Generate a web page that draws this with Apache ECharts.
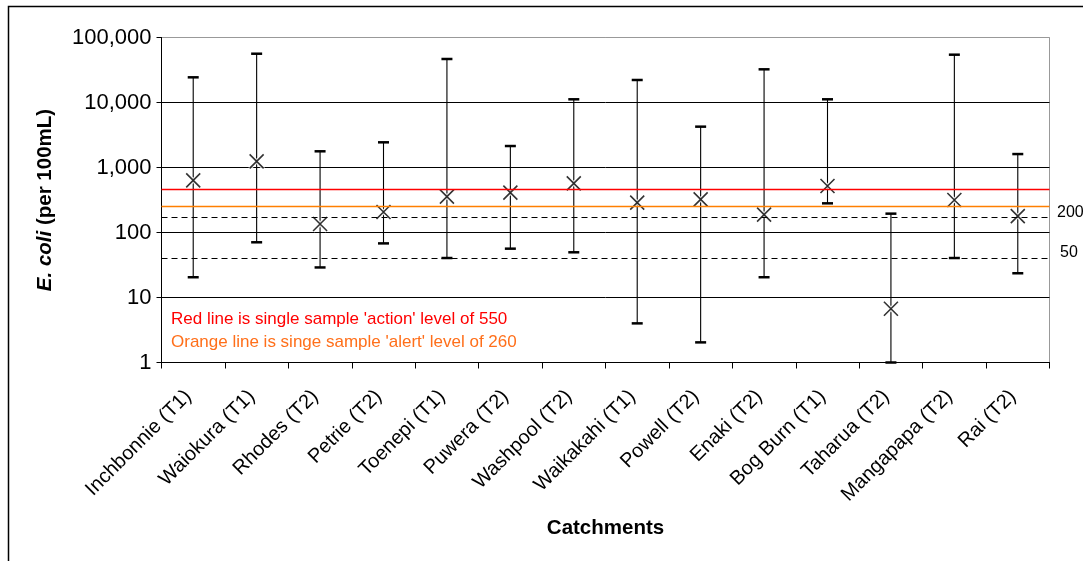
<!DOCTYPE html>
<html>
<head>
<meta charset="utf-8">
<title>E. coli by catchment</title>
<script src="https://cdn.jsdelivr.net/npm/echarts@6/dist/echarts.min.js"></script>
<style>
  html, body { margin: 0; padding: 0; background: #fff; }
  #main { width: 1083px; height: 561px; }
</style>
</head>
<body>
<div id="main"></div>
<script>
// 数据
var categories = ['Inchbonnie (T1)', 'Waiokura (T1)', 'Rhodes (T2)', 'Petrie (T2)', 'Toenepi (T1)',
    'Puwera (T2)', 'Washpool (T2)', 'Waikakahi (T1)', 'Powell (T2)', 'Enaki (T2)',
    'Bog Burn (T1)', 'Taharua (T2)', 'Mangapapa (T2)', 'Rai (T2)'];
var medians = [635, 1245, 135, 207, 356, 410, 571, 288, 324, 188, 519, 6.7, 316, 179];
var maxima  = [24400, 56300, 1775, 2440, 46700, 2140, 11200, 22200, 4250, 32400, 11200, 195, 54400, 1610];
var minima  = [20.5, 70.7, 29, 68, 40.5, 56.4, 49.6, 4, 2.04, 20.5, 281, 1, 40.5, 23.6];
var yTicks  = [1, 10, 100, 1000, 10000, 100000];
var actionLevel = 466;
var alertLevel = 256;
var guideValues = [169, 40.5];
var guideLabels = ['200', '50'];
var noteLines = ["Red line is single sample 'action' level of 550",
    "Orange line is singe sample 'alert' level of 260"];

var FONT = '"Liberation Sans", Arial, sans-serif';

window.onload = function () {
    chartInit();
};

//-----------------------------------------------------------------------------------------
// error bars: vertical line + caps
//-----------------------------------------------------------------------------------------
function renderErrorBar(params, api) {
    var idx = api.value(0);
    var lo = api.coord([idx, api.value(1)]);
    var hi = api.coord([idx, api.value(2)]);
    var half = 5.5;
    return {
        type: 'group',
        children: [{
            type: 'line',
            shape: { x1: lo[0], y1: lo[1], x2: hi[0], y2: hi[1] },
            style: { stroke: '#000', lineWidth: 1.1 }
        }, {
            type: 'line',
            shape: { x1: hi[0] - half, y1: hi[1], x2: hi[0] + half, y2: hi[1] },
            style: { stroke: '#000', lineWidth: 2.5 }
        }, {
            type: 'line',
            shape: { x1: lo[0] - half, y1: lo[1], x2: lo[0] + half, y2: lo[1] },
            style: { stroke: '#000', lineWidth: 2.5 }
        }]
    };
}

function chartInit() {
    var chart = echarts.init(document.getElementById('main'), null, { renderer: 'canvas' });

    var barData = [];
    for (var i = 0; i < categories.length; i++) {
        barData.push([i, minima[i], maxima[i]]);
    }
    var crossPath = 'path://M0,0L10,10M10,0L0,10';

    var guideLines = [];
    for (var g = 0; g < guideValues.length; g++) {
        guideLines.push({ yAxis: guideValues[g], lineStyle: { color: '#000', width: 1, type: [6, 4] } });
    }
    guideLines.push({ yAxis: alertLevel, lineStyle: { color: '#ff7f00', width: 1.3, type: 'solid' } });
    guideLines.push({ yAxis: actionLevel, lineStyle: { color: '#ff0000', width: 1.3, type: 'solid' } });

    var option = {
        animation: false,
        backgroundColor: '#fff',
        grid: {
            left: 161.5, top: 37.5, width: 888, height: 325,
            show: true, borderColor: '#999', borderWidth: 1, backgroundColor: 'transparent'
        },
        xAxis: {
            type: 'category',
            data: categories,
            boundaryGap: true,
            name: 'Catchments',
            nameLocation: 'middle',
            nameGap: 155,
            nameTextStyle: { fontFamily: FONT, fontSize: 20.5, fontWeight: 'bold', color: '#000' },
            axisLine: { show: true, lineStyle: { color: '#000', width: 1 } },
            axisTick: { show: true, length: 6, alignWithLabel: false, interval: 0, lineStyle: { color: '#000' } },
            axisLabel: {
                interval: 0, rotate: 45, margin: 26,
                padding: [0, 7, 0, 0],
                fontFamily: FONT, fontSize: 20, color: '#000'
            },
            splitLine: { show: false }
        },
        yAxis: {
            type: 'log',
            logBase: 10,
            min: 1,
            max: 100000,
            name: '{i|E. coli} (per 100mL)',
            nameLocation: 'middle',
            nameGap: 106,
            nameRotate: 90,
            nameTextStyle: {
                fontFamily: FONT, fontSize: 20.5, fontWeight: 'bold', color: '#000',
                rich: { i: { fontFamily: FONT, fontSize: 20.5, fontWeight: 'bold', fontStyle: 'italic', color: '#000' } }
            },
            axisLine: { show: true, lineStyle: { color: '#000', width: 1 } },
            axisTick: { show: true, length: 5, lineStyle: { color: '#000' } },
            minorTick: { show: false },
            axisLabel: {
                margin: 10,
                fontFamily: FONT, fontSize: 22, color: '#000',
                formatter: function (v) {
                    return yTicks.indexOf(v) >= 0 ? v.toLocaleString('en-US') : '';
                }
            },
            splitLine: {
                show: true,
                lineStyle: { color: ['#000', '#000', '#000', '#000', '#000', '#999'], width: 1 }
            }
        },
        series: [{
            type: 'custom',
            renderItem: renderErrorBar,
            encode: { x: 0, y: [1, 2] },
            data: barData,
            z: 2
        }, {
            type: 'scatter',
            data: medians,
            symbol: crossPath,
            symbolSize: 14,
            itemStyle: { color: 'transparent', borderColor: '#fff', borderWidth: 4 },
            z: 3
        }, {
            type: 'scatter',
            data: medians,
            symbol: crossPath,
            symbolSize: 14,
            itemStyle: { color: 'transparent', borderColor: '#000', borderWidth: 1.6 },
            markLine: {
                silent: true,
                symbol: 'none',
                label: { show: false },
                data: guideLines
            },
            z: 4
        }]
    };
    chart.setOption(option);

    // labels of the dashed lines + notes + outer frame
    var graphics = [{
        type: 'rect',
        shape: { x: 8.5, y: 6.5, width: 1100, height: 600 },
        style: { fill: 'none', stroke: '#000', lineWidth: 1.5 },
        z: 10
    }];
    for (var k = 0; k < guideValues.length; k++) {
        var py = chart.convertToPixel({ yAxisIndex: 0 }, guideValues[k]);
        graphics.push({
            type: 'text',
            x: k === 0 ? 1057 : 1060,
            y: py - 5,
            style: { text: guideLabels[k], font: '16px ' + FONT, fill: '#000', verticalAlign: 'middle' },
            z: 10
        });
    }
    graphics.push({
        type: 'text', x: 171, y: 319,
        style: { text: noteLines[0], font: '17px ' + FONT, fill: '#ff0000', verticalAlign: 'middle' }, z: 10
    });
    graphics.push({
        type: 'text', x: 171, y: 342,
        style: { text: noteLines[1], font: '17px ' + FONT, fill: '#ff6f1a', verticalAlign: 'middle' }, z: 10
    });
    chart.setOption({ graphic: graphics });
}
</script>
</body>
</html>
